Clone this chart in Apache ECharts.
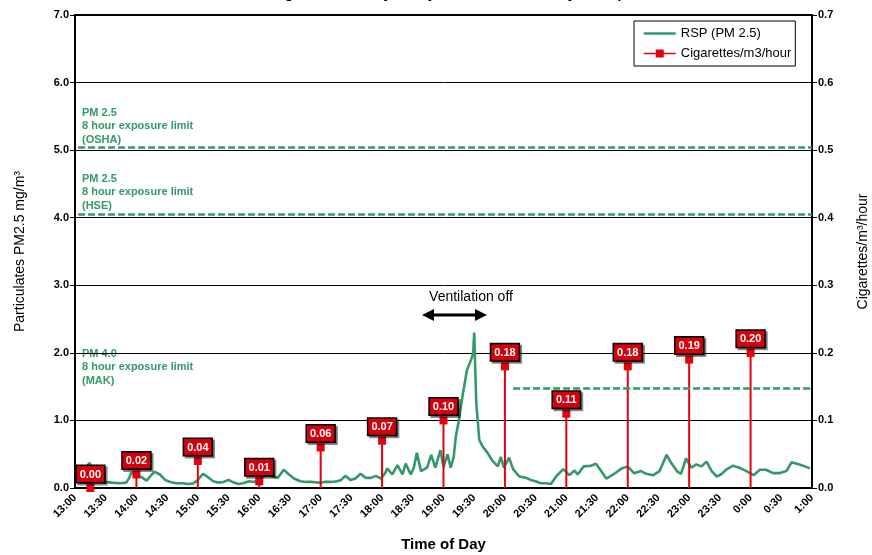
<!DOCTYPE html>
<html>
<head>
<meta charset="utf-8">
<script src="https://cdn.jsdelivr.net/npm/echarts@6/dist/echarts.min.js"></script>
<style>
html,body{margin:0;padding:0;background:#fff;overflow:hidden;}
#chart{width:872px;height:555px;}
</style>
</head>
<body>
<div id="chart"></div>
<script>
// ---- data (minutes after 13:00) ----
const rspTime = [0,5,10,14,20,24,29,36,44,50,53,55,60,65,70,75,78,83,88,93,99,105,111,116,120,125,130,135,140,145,150,155,160,164,170,175,180,185,188,193,198,204,209,214,220,226,232,238,244,250,256,260,264,269,274,279,284,289,294,299,303,305,310,315,320,323,328,331,334,338,344,348,352,357,360,364,367,370,372,375,379,383,387,389,390,392,395,398,403,408,413,416,419,424,428,434,441,445,450,455,460,465,470,477,483,488,491,497,504,509,514,519,526,534,540,546,553,558,565,571,578,582,588,592,597,602,607,612,617,622,627,631,637,643,649,656,663,669,675,682,688,695,700,707,713,718];
const rspValue = [0.24,0.30,0.27,0.37,0.22,0.12,0.09,0.08,0.07,0.08,0.15,0.23,0.19,0.16,0.11,0.20,0.24,0.20,0.12,0.09,0.07,0.07,0.06,0.07,0.12,0.21,0.16,0.10,0.08,0.09,0.12,0.08,0.06,0.07,0.10,0.09,0.13,0.18,0.22,0.17,0.15,0.27,0.20,0.14,0.10,0.09,0.09,0.08,0.09,0.09,0.10,0.12,0.18,0.12,0.14,0.21,0.15,0.15,0.18,0.14,0.22,0.29,0.20,0.34,0.20,0.36,0.20,0.30,0.52,0.25,0.30,0.49,0.30,0.56,0.31,0.50,0.30,0.46,0.76,1.00,1.40,1.75,1.90,2.00,2.30,1.26,0.71,0.62,0.52,0.40,0.32,0.46,0.30,0.45,0.28,0.17,0.15,0.12,0.10,0.07,0.07,0.06,0.17,0.28,0.19,0.26,0.20,0.32,0.33,0.36,0.25,0.14,0.20,0.29,0.32,0.22,0.25,0.21,0.19,0.25,0.49,0.38,0.25,0.21,0.44,0.30,0.35,0.32,0.39,0.25,0.17,0.20,0.28,0.33,0.30,0.25,0.19,0.27,0.27,0.22,0.22,0.25,0.38,0.35,0.32,0.29];
const cigTime = [15,60,120,180,240,300,360,420,480,540,600,660];
const cigValue = [0.00,0.02,0.04,0.01,0.06,0.07,0.10,0.18,0.11,0.18,0.19,0.20];
const limitNames = ['PM 2.5\n8 hour exposure limit\n(OSHA)','PM 2.5\n8 hour exposure limit\n(HSE)','PM 4.0\n8 hour exposure limit\n(MAK)'];
const limitValues = [5.04, 4.05, 1.48];
const limitStart = [3, 3, 428];
const limitEnd = [720, 720, 720];
const seriesNames = ['RSP (PM 2.5)', 'Cigarettes/m3/hour'];

const GREEN = '#34996a';
const RED = '#e3000f';
const FONT = 'Liberation Sans, Arial, sans-serif';

function fmtTime(m){
  const h = (13 + Math.floor(m/60)) % 24;
  const mm = m % 60;
  return h + ':' + (mm < 10 ? '0' + mm : mm);
}

const chart = echarts.init(document.getElementById('chart'), null, {renderer:'canvas', width:872, height:555});

const limitLines = limitValues.map((v,i)=>[
  {coord:[limitStart[i], v]},
  {coord:[limitEnd[i], v]}
]);

const option = {
  animation:false,
  backgroundColor:'#fff',
  textStyle:{fontFamily:FONT},
  grid:{left:75, right:60, top:15, bottom:67, containLabel:false, outerBoundsMode:'none',
        show:true, borderColor:'#000', borderWidth:2, backgroundColor:'transparent'},
  legend:{
    left:634, top:21, orient:'vertical',
    padding:[6,4,6,9], itemGap:7, itemWidth:32, itemHeight:10,
    backgroundColor:'#fff', borderColor:'#000', borderWidth:1, borderRadius:0,
    textStyle:{fontSize:13, color:'#000', fontFamily:FONT},
    data:[
      {name:seriesNames[0], icon:'path://M0,0L32,0L32,2.4L0,2.4Z', itemStyle:{color:GREEN}},
      {name:seriesNames[1], lineStyle:{width:1.5, opacity:1, color:RED, type:'solid'}}
    ]
  },
  xAxis:{
    type:'value', min:0, max:720, interval:30,
    name:'Time of Day', nameLocation:'middle', nameGap:49,
    nameTextStyle:{fontSize:15, fontWeight:'bold', color:'#000', fontFamily:FONT},
    axisLine:{lineStyle:{color:'#000', width:2}},
    axisTick:{show:false},
    splitLine:{show:false},
    axisLabel:{rotate:45, margin:8, fontSize:11, fontWeight:'bold', color:'#000', fontFamily:FONT,
      formatter:v=>fmtTime(v)}
  },
  yAxis:[
    {
      type:'value', min:0, max:7, interval:1,
      name:'Particulates PM2.5 mg/m\u00b3', nameLocation:'middle', nameGap:48, nameRotate:90,
      nameTextStyle:{fontSize:14, color:'#000', fontFamily:FONT},
      axisLine:{show:true, lineStyle:{color:'#000', width:2}},
      axisTick:{show:true, length:5, lineStyle:{color:'#000', width:1}},
      splitLine:{show:true, lineStyle:{color:'#000', width:1}},
      axisLabel:{fontSize:11, fontWeight:'bold', color:'#000', margin:6, fontFamily:FONT, formatter:v=>v.toFixed(1)}
    },
    {
      type:'value', min:0, max:0.7, interval:0.1, position:'right',
      name:'Cigarettes/m\u00b3/hour', nameLocation:'middle', nameGap:44, nameRotate:90,
      nameTextStyle:{fontSize:14, color:'#000', fontFamily:FONT},
      axisLine:{show:true, lineStyle:{color:'#000', width:2}},
      axisTick:{show:true, length:5, lineStyle:{color:'#000', width:1}},
      splitLine:{show:false},
      axisLabel:{fontSize:11, fontWeight:'bold', color:'#000', margin:6, fontFamily:FONT, formatter:v=>v.toFixed(1)}
    }
  ],
  series:[
    {
      name:seriesNames[0], type:'line', yAxisIndex:0, symbol:'none',
      data:rspTime.map((t,i)=>[t, rspValue[i]]),
      lineStyle:{color:GREEN, width:2.6}, itemStyle:{color:GREEN},
      z:3,
      markLine:{
        silent:true, symbol:'none', label:{show:false},
        lineStyle:{color:GREEN, width:2.5, type:[7,3]},
        data:limitLines
      }
    },
    {
      name:'stems', type:'bar', yAxisIndex:1, barWidth:2,
      data:cigTime.map((t,i)=>[t, cigValue[i]]),
      itemStyle:{color:RED}, z:4, silent:true
    },
    {
      name:seriesNames[1], type:'line', yAxisIndex:1,
      symbol:'rect', symbolSize:8, showSymbol:true,
      data:cigTime.map((t,i)=>[t, cigValue[i]]),
      itemStyle:{color:RED},
      lineStyle:{width:0, opacity:0, color:RED},
      z:5,
      label:{
        show:true, position:'top', distance:2,
        formatter:p=>p.value[1].toFixed(2),
        color:'#fff', fontWeight:'bold', fontSize:11, fontFamily:FONT,
        backgroundColor:'#d4000c', borderColor:'#000', borderWidth:1.5,
        padding:[3,3,2,3],
        shadowColor:'rgba(0,0,0,0.45)', shadowOffsetX:2, shadowOffsetY:2, shadowBlur:0
      }
    }
  ],
  graphic:[
    {type:'text', left:'center', top:-13, style:{text:'Smoking Room Activity Today and Smoke Intensity - Sample', font:'bold 14px '+FONT, fill:'#000'}},
    {type:'text', x:82, y:106, style:{text:limitNames[0], font:'bold 11px '+FONT, fill:GREEN, lineHeight:13.5}, z:-1},
    {type:'text', x:82, y:172, style:{text:limitNames[1], font:'bold 11px '+FONT, fill:GREEN, lineHeight:13.5}, z:-1},
    {type:'text', x:82, y:347, style:{text:limitNames[2], font:'bold 11px '+FONT, fill:GREEN, lineHeight:13.5}, z:-1},
    {type:'text', x:471, y:297, style:{text:'Ventilation off', font:'14px '+FONT, fill:'#000', textAlign:'center', textVerticalAlign:'middle'}},
    {type:'line', shape:{x1:432, y1:315, x2:477, y2:315}, style:{stroke:'#000', lineWidth:3}},
    {type:'polygon', shape:{points:[[422,315],[434,309],[434,321]]}, style:{fill:'#000'}},
    {type:'polygon', shape:{points:[[487,315],[475,309],[475,321]]}, style:{fill:'#000'}}
  ]
};
chart.setOption(option);
</script>
</body>
</html>
